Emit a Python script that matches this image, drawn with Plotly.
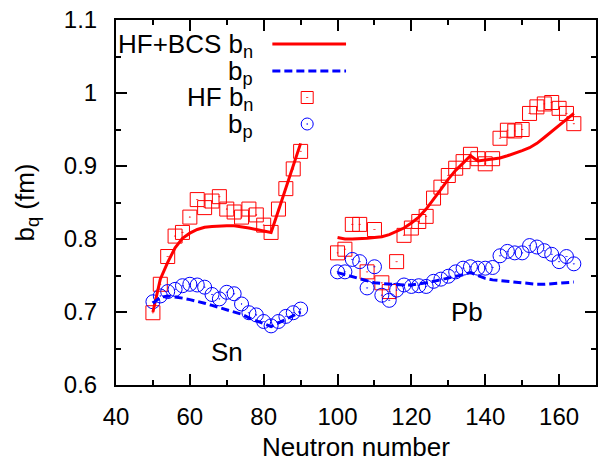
import plotly.graph_objects as go

# ---------------- data ----------------
sn_N = list(range(50, 91, 2))
sn_bn_bcs = [0.700, 0.745, 0.768, 0.788, 0.801, 0.808, 0.813, 0.816, 0.817, 0.818, 0.818,
             0.818, 0.817, 0.815, 0.813, 0.811, 0.809, 0.839, 0.870, 0.900, 0.931]
sn_bp_bcs = [0.712, 0.720, 0.722, 0.721, 0.719, 0.717, 0.715, 0.712, 0.709, 0.706, 0.703,
             0.700, 0.697, 0.692, 0.688, 0.684, 0.680, 0.685, 0.690, 0.695, 0.700]
sn_bn_hf = [0.699, 0.738, 0.776, 0.804, 0.809, 0.830, 0.854, 0.843, 0.852, 0.858, 0.841,
            0.837, 0.830, 0.841, 0.833, 0.819, 0.809, 0.841, 0.869, 0.896, 0.920]
sn_bp_hf = [0.714, 0.722, 0.728, 0.731, 0.736, 0.738, 0.737, 0.734, 0.724, 0.718, 0.727,
            0.725, 0.711, 0.699, 0.696, 0.687, 0.681, 0.687, 0.694, 0.699, 0.704]

pb_N = list(range(100, 165, 2))
pb_bn_bcs = [0.802, 0.800, 0.800, 0.800, 0.801, 0.802, 0.803, 0.806, 0.810, 0.815, 0.822,
             0.830, 0.841, 0.854, 0.868, 0.882, 0.894, 0.904, 0.914, 0.907, 0.908, 0.909,
             0.911, 0.914, 0.917, 0.921, 0.925, 0.931, 0.939, 0.947, 0.955, 0.964, 0.972]
pb_bp_bcs = [0.754, 0.751, 0.748, 0.745, 0.743, 0.740, 0.739, 0.738, 0.737, 0.737, 0.737,
             0.738, 0.740, 0.742, 0.744, 0.746, 0.749, 0.751, 0.754, 0.750, 0.746, 0.744,
             0.743, 0.742, 0.740, 0.739, 0.738, 0.738, 0.738, 0.739, 0.740, 0.740, 0.741]
pb_bn_hf = [0.781, 0.786, 0.820, 0.820, 0.755, 0.813, 0.740, 0.728, 0.769, 0.805, 0.815,
            0.824, 0.831, 0.856, 0.871, 0.887, 0.897, 0.906, 0.916, 0.910, 0.903, 0.910,
            0.938, 0.949, 0.948, 0.950, 0.972, 0.981, 0.985, 0.987, 0.979, 0.972, 0.958]
pb_bp_hf = [0.755, 0.755, 0.772, 0.769, 0.733, 0.762, 0.723, 0.716, 0.730, 0.737, 0.735,
            0.736, 0.735, 0.742, 0.745, 0.749, 0.755, 0.760, 0.762, 0.760, 0.760, 0.761,
            0.777, 0.783, 0.781, 0.781, 0.791, 0.789, 0.784, 0.779, 0.769, 0.776, 0.766]

x_ticks = [40, 60, 80, 100, 120, 140, 160]
y_ticks = [0.6, 0.7, 0.8, 0.9, 1.0, 1.1]
y_ticklabels = ["0.6", "0.7", "0.8", "0.9", "1", "1.1"]

legend_labels = ["HF+BCS b<sub>n</sub>", "b<sub>p</sub>", "HF b<sub>n</sub>", "b<sub>p</sub>"]
region_labels = ["Sn", "Pb"]
region_pos = [(70, 0.645), (135, 0.700)]

# ---------------- figure ----------------
RED = "#ff0000"
BLUE = "#0000ff"
FONT = "Liberation Sans, Arial, Helvetica, sans-serif"
FS = 26

def join(a, b):
    return list(a) + [None] + list(b)

N_all = join(sn_N, pb_N)

fig = go.Figure()
fig.add_trace(go.Scatter(x=N_all, y=join(sn_bn_hf, pb_bn_hf), mode="markers",
                         marker=dict(symbol="square-open-dot", size=14, color=RED,
                                     line=dict(width=1, color=RED)), showlegend=False))
fig.add_trace(go.Scatter(x=N_all, y=join(sn_bp_hf, pb_bp_hf), mode="markers",
                         marker=dict(symbol="circle-open-dot", size=14, color=BLUE,
                                     line=dict(width=1, color=BLUE)), showlegend=False))
fig.add_trace(go.Scatter(x=N_all, y=join(sn_bn_bcs, pb_bn_bcs), mode="lines",
                         line=dict(color=RED, width=3), connectgaps=False, showlegend=False))
fig.add_trace(go.Scatter(x=N_all, y=join(sn_bp_bcs, pb_bp_bcs), mode="lines",
                         line=dict(color=BLUE, width=3, dash="8px,4px"), connectgaps=False,
                         showlegend=False))

# ---- hand-built legend on a hidden pixel-coordinate overlay axis ----
L, R, T, B = 116, 598, 20, 385
rows_y = [44, 71, 97.5, 124]
text_x = 256
sample_x0, sample_x1, sym_x = 273, 347, 308
fig.add_trace(go.Scatter(x=[sample_x0, sample_x1], y=[rows_y[0]] * 2, mode="lines",
                         line=dict(color=RED, width=3), xaxis="x2", yaxis="y2",
                         showlegend=False, hoverinfo="skip"))
fig.add_trace(go.Scatter(x=[sample_x0, sample_x1], y=[rows_y[1]] * 2, mode="lines",
                         line=dict(color=BLUE, width=3, dash="8px,4px"), xaxis="x2", yaxis="y2",
                         showlegend=False, hoverinfo="skip"))
fig.add_trace(go.Scatter(x=[sym_x], y=[rows_y[2]], mode="markers",
                         marker=dict(symbol="square-open-dot", size=12, color=RED,
                                     line=dict(width=1, color=RED)),
                         xaxis="x2", yaxis="y2", showlegend=False, hoverinfo="skip"))
fig.add_trace(go.Scatter(x=[sym_x], y=[rows_y[3]], mode="markers",
                         marker=dict(symbol="circle-open-dot", size=12, color=BLUE,
                                     line=dict(width=1, color=BLUE)),
                         xaxis="x2", yaxis="y2", showlegend=False, hoverinfo="skip"))

annotations = []
for lab, yy in zip(legend_labels, rows_y):
    annotations.append(dict(x=text_x, y=yy + 1, xref="x2", yref="y2", text=lab,
                            showarrow=False, xanchor="right", yanchor="middle",
                            font=dict(family=FONT, size=FS, color="black")))
for lab, (xx, yy) in zip(region_labels, region_pos):
    annotations.append(dict(x=xx, y=yy, xref="x", yref="y", text=lab, showarrow=False,
                            xanchor="center", yanchor="middle",
                            font=dict(family=FONT, size=FS, color="black")))

axis_common = dict(showline=True, linecolor="black", linewidth=2, mirror="ticks",
                   ticks="inside", ticklen=11, tickwidth=1.5, tickcolor="black",
                   showgrid=False, zeroline=False,
                   tickfont=dict(family=FONT, size=24, color="black"))

fig.update_layout(
    width=598, height=462,
    margin=dict(l=L, r=598 - R, t=T, b=462 - B, pad=0),
    paper_bgcolor="white", plot_bgcolor="white",
    font=dict(family=FONT, size=FS, color="black"),
    xaxis=dict(range=[40, 170], tickvals=x_ticks,
               minor=dict(dtick=10, tick0=40, ticks="inside", ticklen=5, tickwidth=1.5,
                          tickcolor="black"),
               title=dict(text="Neutron number", font=dict(family=FONT, size=FS), standoff=10),
               ticklabelstandoff=9,
               **axis_common),
    yaxis=dict(range=[0.6, 1.1], tickvals=y_ticks, ticktext=y_ticklabels,
               minor=dict(dtick=0.05, tick0=0.6, ticks="inside", ticklen=5, tickwidth=1.5,
                          tickcolor="black"),
               title=dict(text="b<sub>q</sub> (fm)", font=dict(family=FONT, size=FS), standoff=22),
               ticklabelstandoff=12,
               **axis_common),
    xaxis2=dict(range=[L, R], overlaying="x", visible=False, fixedrange=True),
    yaxis2=dict(range=[B, T], overlaying="y", visible=False, fixedrange=True),
    annotations=annotations,
    showlegend=False,
)

fig.write_html("out.html", config={"displayModeBar": False},
               post_script="document.body.style.margin='0';document.body.style.overflow='hidden';")
